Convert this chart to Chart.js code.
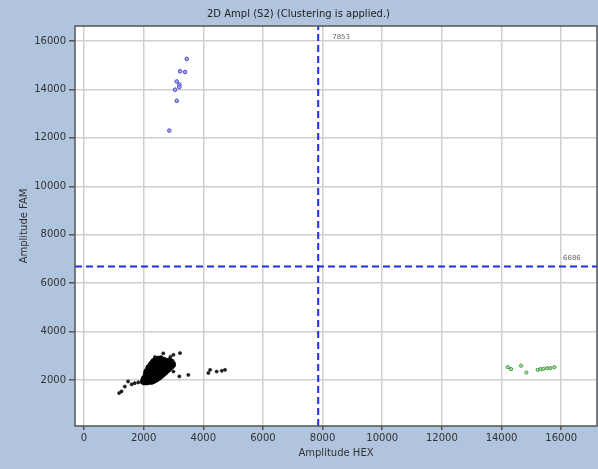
<!DOCTYPE html>
<html>
<head>
<meta charset="utf-8">
<script src="https://cdn.jsdelivr.net/npm/chart.js@4.4.1/dist/chart.umd.min.js"></script>
<style>
  html, body { margin: 0; padding: 0; background: #b0c4de; }
  #wrap { width: 598px; height: 469px; position: relative; }
</style>
</head>
<body>
<div id="wrap"><canvas id="c"></canvas></div>
<script>
// values (Amplitude HEX, Amplitude FAM)
const blackCluster = [
  [1960,1920],[1970,1990],[1990,2060],
  [2010,1880],[2020,1950],[2030,2030],[2015,2110],
  [2060,1890],[2070,1970],[2050,2050],[2080,2130],[2060,2210],
  [2110,1880],[2100,1960],[2120,2040],[2105,2120],[2130,2200],[2110,2290],
  [2160,1900],[2150,1990],[2170,2070],[2155,2150],[2180,2230],[2160,2320],[2175,2400],
  [2210,1930],[2200,2020],[2220,2100],[2205,2180],[2230,2260],[2210,2340],[2225,2430],[2240,2500],
  [2260,1960],[2250,2050],[2270,2130],[2255,2210],[2280,2290],[2260,2380],[2275,2460],[2290,2540],[2270,2600],
  [2310,1990],[2300,2080],[2320,2160],[2305,2240],[2330,2320],[2310,2410],[2325,2490],[2340,2570],[2320,2650],
  [2360,2030],[2350,2110],[2370,2190],[2355,2270],[2380,2350],[2360,2440],[2375,2520],[2390,2600],[2370,2680],
  [2410,2070],[2400,2150],[2420,2230],[2405,2310],[2430,2390],[2410,2470],[2425,2550],[2440,2630],[2420,2710],[2400,2780],
  [2460,2110],[2450,2190],[2470,2270],[2455,2350],[2480,2430],[2460,2510],[2475,2590],[2490,2670],[2470,2750],
  [2510,2150],[2500,2230],[2520,2310],[2505,2390],[2530,2470],[2510,2550],[2525,2630],[2540,2710],[2520,2790],
  [2560,2190],[2550,2270],[2570,2350],[2555,2430],[2580,2510],[2560,2590],[2575,2670],[2590,2750],[2570,2830],
  [2610,2240],[2600,2320],[2620,2400],[2605,2480],[2630,2560],[2610,2640],[2625,2720],[2640,2800],[2620,2870],
  [2660,2290],[2650,2370],[2670,2450],[2655,2530],[2680,2610],[2660,2690],[2675,2770],[2690,2850],
  [2710,2340],[2700,2420],[2720,2500],[2705,2580],[2730,2660],[2710,2740],[2725,2820],
  [2760,2400],[2750,2480],[2770,2560],[2755,2640],[2780,2720],[2760,2800],
  [2810,2450],[2800,2530],[2820,2610],[2805,2690],[2830,2770],
  [2860,2510],[2850,2590],[2870,2670],[2855,2750],
  [2910,2570],[2900,2650],[2920,2720],
  [2960,2630],[2950,2700],
  [2060,2290],[2080,2370],[2110,2380],[2130,2460],[2150,2540],[2180,2480],[2200,2580],
  [2230,2650],[2260,2690],[2290,2740],[2320,2800],[2350,2760],[2380,2850],[2430,2860],
  [2480,2900],[2530,2880],[2580,2920],[2200,2560],[2250,2620],[2150,2460],
  [2450,2020],[2500,2060],[2550,2100],[2600,2150],[2650,2200],[2700,2260],[2750,2310],
  [2800,2370],[2850,2420],[2900,2480],[2950,2540],[3000,2600],[3000,2680],[2950,2780],
  [2900,2800],[2850,2830],[2400,1980],[2350,1950],[2300,1920],[2250,1900]
];
const blackStray = [
  [2380,2950],[2660,3100],[3000,3040],[3220,3110],[2900,2960],[3000,2350],[3200,2150],
  [3500,2210],[1480,1940],[1370,1730],[1260,1530],[1180,1460],[1600,1820],[1700,1870],
  [1820,1900],[4170,2290],[4230,2420],[4450,2350],[4620,2380],[4730,2420]
];
const blueCluster = [
  [3446,15260],[3222,14750],[3390,14720],[3111,14330],[3198,14200],
  [3198,14100],[3054,13990],[3111,13530],[2862,12300]
];
const greenCluster = [
  [14207,2530],[14318,2450],[14654,2590],[14832,2310],[15212,2420],
  [15302,2450],[15400,2460],[15526,2490],[15638,2490],[15772,2530]
];
const thresholdHex = 7853;
const thresholdFam = 6686;
const xTicks = [0, 2000, 4000, 6000, 8000, 10000, 12000, 14000, 16000];
const yTicks = [2000, 4000, 6000, 8000, 10000, 12000, 14000, 16000];
const xRange = [-300, 17200];
const yRange = [100, 16620];

const toPts = (arr) => arr.map(([x, y]) => ({ x, y }));
const plain = (v) => String(v);

const areaPlugin = {
  id: 'area',
  beforeDraw(chart) {
    const { ctx, chartArea: a } = chart;
    ctx.save();
    ctx.fillStyle = '#ffffff';
    ctx.fillRect(a.left, a.top, a.right - a.left, a.bottom - a.top);
    ctx.restore();
  },
  afterDraw(chart) {
    const { ctx, chartArea: a, scales } = chart;
    ctx.save();
    ctx.strokeStyle = '#555';
    ctx.lineWidth = 1.5;
    ctx.strokeRect(a.left, a.top, a.right - a.left, a.bottom - a.top);
    ctx.fillStyle = '#666';
    ctx.font = '7px "DejaVu Sans"';
    ctx.textBaseline = 'middle';
    ctx.fillText(String(thresholdHex), scales.x.getPixelForValue(thresholdHex) + 14, a.top + 11);
    ctx.fillText(String(thresholdFam), a.right - 34, scales.y.getPixelForValue(thresholdFam) - 8);
    ctx.restore();
  }
};

const dotted = {
  showLine: false,
  pointRadius: 1.6,
  pointBorderWidth: 0.5,
};

new Chart(document.getElementById('c'), {
  type: 'scatter',
  data: {
    datasets: [
      { ...dotted, data: toPts(blackCluster), backgroundColor: '#000', borderColor: '#000', pointRadius: 2.2 },
      { ...dotted, data: toPts(blackStray), backgroundColor: '#222', borderColor: '#000' },
      { ...dotted, data: toPts(blueCluster), backgroundColor: '#a8a8f0', borderColor: '#4a4ad0', pointRadius: 1.8, pointBorderWidth: 1 },
      { ...dotted, data: toPts(greenCluster), backgroundColor: '#b8e0b0', borderColor: '#3c9a3c', pointRadius: 1.6, pointBorderWidth: 1 },
      {
        type: 'line', data: [{ x: thresholdHex, y: yRange[0] }, { x: thresholdHex, y: yRange[1] }],
        borderColor: '#1f2fe0', borderWidth: 2, borderDash: [7, 4], pointRadius: 0, showLine: true,
      },
      {
        type: 'line', data: [{ x: xRange[0], y: thresholdFam }, { x: xRange[1], y: thresholdFam }],
        borderColor: '#1f2fe0', borderWidth: 2, borderDash: [7, 4], pointRadius: 0, showLine: true,
      },
    ],
  },
  options: {
    responsive: true,
    maintainAspectRatio: false,
    animation: false,
    layout: { autoPadding: false, padding: { right: 1, left: 0, bottom: 0, top: 0 } },
    plugins: {
      legend: { display: false },
      tooltip: { enabled: false },
      title: {
        display: true,
        text: '2D Ampl (S2) (Clustering is applied.)',
        color: '#222',
        font: { family: '"DejaVu Sans"', size: 10, weight: 'normal' },
        padding: { top: 8, bottom: 6 },
      },
    },
    scales: {
      x: {
        type: 'linear', min: xRange[0], max: xRange[1],
        afterBuildTicks: (s) => { s.ticks = xTicks.map((v) => ({ value: v })); },
        afterFit: (s) => { s.height = 43; s.paddingLeft = 0; s.paddingRight = 0; },
        grid: { color: '#d0d0d0', lineWidth: 1.5, tickColor: '#555', tickLength: 4, drawTicks: true },
        border: { display: false },
        ticks: { color: '#333', font: { family: '"DejaVu Sans"', size: 10 }, padding: 2, maxRotation: 0, callback: plain },
        title: { display: true, text: 'Amplitude HEX', color: '#333', font: { family: '"DejaVu Sans"', size: 10 }, padding: { top: 0, bottom: 10 } },
      },
      y: {
        type: 'linear', min: yRange[0], max: yRange[1],
        afterBuildTicks: (s) => { s.ticks = yTicks.map((v) => ({ value: v })); },
        afterFit: (s) => { s.width = 75; s.paddingTop = 0; s.paddingBottom = 0; },
        grid: { color: '#d0d0d0', lineWidth: 1.5, tickColor: '#555', tickLength: 6, drawTicks: true },
        border: { display: false },
        ticks: { color: '#333', font: { family: '"DejaVu Sans"', size: 10 }, padding: 3, callback: plain },
        title: { display: true, text: 'Amplitude FAM', color: '#333', font: { family: '"DejaVu Sans"', size: 10 }, padding: { top: 18, bottom: 0 } },
      },
    },
  },
  plugins: [areaPlugin],
});
</script>
</body>
</html>
